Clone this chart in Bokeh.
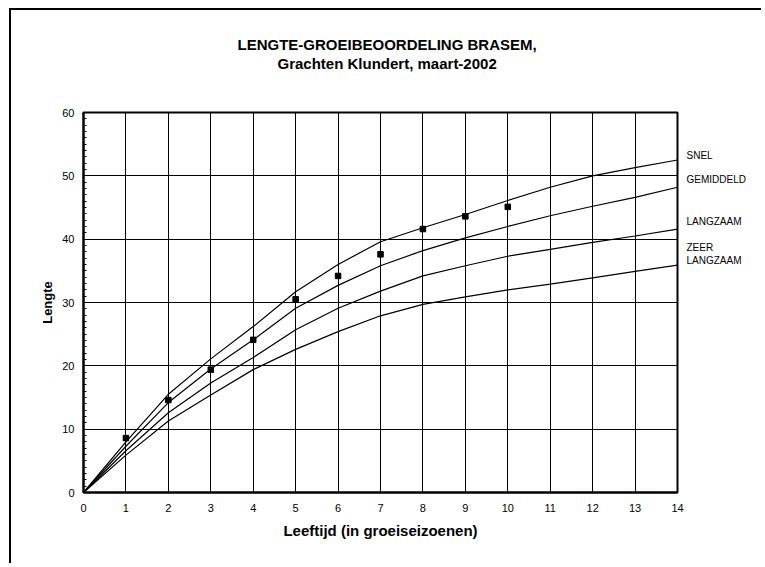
from bokeh.plotting import figure
from bokeh.models import Range1d, FixedTicker, LinearAxis, Title
from bokeh.embed import file_html
from bokeh.resources import INLINE

# ---- data ----
ages = [0, 1, 2, 3, 4, 5, 6, 7, 8, 9, 10, 11, 12, 13, 14]
snel = [0, 8.0, 15.5, 21.1, 26.2, 31.7, 36.0, 39.6, 41.8, 43.9, 46.1, 48.2, 50.0, 51.3, 52.5]
gemiddeld = [0, 7.3, 14.2, 19.5, 24.1, 29.1, 32.7, 35.8, 38.2, 40.2, 42.0, 43.7, 45.2, 46.6, 48.2]
langzaam = [0, 6.6, 12.6, 17.3, 21.3, 25.7, 29.1, 31.8, 34.2, 35.8, 37.3, 38.4, 39.5, 40.5, 41.6]
zeer_langzaam = [0, 5.9, 11.3, 15.4, 19.4, 22.6, 25.4, 27.9, 29.7, 30.9, 32.0, 32.9, 33.9, 34.9, 35.9]
obs_age = [1, 2, 3, 4, 5, 6, 7, 8, 9, 10]
obs_len = [8.6, 14.6, 19.4, 24.1, 30.5, 34.2, 37.6, 41.6, 43.6, 45.1]
x_ticks = [0, 1, 2, 3, 4, 5, 6, 7, 8, 9, 10, 11, 12, 13, 14]
y_ticks = [0, 10, 20, 30, 40, 50, 60]
curve_names = ["SNEL", "GEMIDDELD", "LANGZAAM", "ZEER\nLANGZAAM"]
title_line1 = "LENGTE-GROEIBEOORDELING BRASEM,"
title_line2 = "Grachten Klundert, maart-2002"

FONT = "Liberation Sans"

# host placed at (9, 8) with a 2px top/left border -> canvas starts at (11, 10)
p = figure(width=752, height=555, x_range=Range1d(0, 14), y_range=Range1d(0, 60),
           output_backend="svg", toolbar_location=None, title=None,
           min_border_left=72, min_border_right=86, min_border_top=102, min_border_bottom=73,
           background_fill_color="white", border_fill_color="white")
p.styles = {"vertical-align": "top", "margin-left": "9px", "margin-top": "8px",
            "border-top": "2px solid #000", "border-left": "2px solid #000"}

p.outline_line_color = "black"
p.outline_line_width = 2

# title: spacer + two separately positioned lines
spacer = Title(text=" ", text_font=FONT, text_font_size="15px", standoff=22)
t2 = Title(text=title_line2, align="left", offset=194, text_font=FONT, text_font_size="15px",
           text_font_style="bold", text_color="black", standoff=0)
t1 = Title(text=title_line1, align="left", offset=154, text_font=FONT, text_font_size="15px",
           text_font_style="bold", text_color="black", standoff=0)
p.add_layout(spacer, "above")
p.add_layout(t2, "above")
p.add_layout(t1, "above")

# axes
p.xaxis.ticker = FixedTicker(ticks=x_ticks)
p.yaxis.ticker = FixedTicker(ticks=y_ticks, minor_ticks=list(range(0, 61)))
for ax in (p.xaxis, p.yaxis):
    ax.axis_line_color = "black"
    ax.axis_line_width = 2
    ax.major_tick_in = 0
    ax.major_tick_out = 0
    ax.major_label_text_font = FONT
    ax.major_label_text_font_size = "11px"
    ax.major_label_text_color = "black"
    ax.axis_label_text_font = FONT
    ax.axis_label_text_font_style = "bold"
    ax.axis_label_text_color = "black"
p.xaxis.minor_tick_line_color = None
p.yaxis.minor_tick_in = 3
p.yaxis.minor_tick_out = 0
p.yaxis.minor_tick_line_color = "black"
p.xaxis.major_label_standoff = 11
p.yaxis.major_label_standoff = 9
p.xaxis.axis_label = "Leeftijd (in groeiseizoenen)"
p.xaxis.axis_label_text_font_size = "15px"
p.xaxis.axis_label_standoff = 7
p.yaxis.axis_label = "Lengte"
p.yaxis.axis_label_text_font_size = "13px"
p.yaxis.axis_label_standoff = 4

# grid
p.xgrid.ticker = FixedTicker(ticks=x_ticks)
p.ygrid.ticker = FixedTicker(ticks=y_ticks)
for g in (p.xgrid, p.ygrid):
    g.grid_line_color = "black"
    g.grid_line_width = 1
    g.grid_line_alpha = 1

# curves
for series in (snel, gemiddeld, langzaam, zeer_langzaam):
    p.line(ages, series, line_color="black", line_width=1.2)

p.scatter(obs_age, obs_len, marker="square", size=5.5, fill_color="black", line_color="black")

# curve names on the right, via an axis whose ticks sit at the label heights
label_y = [53.2, 49.5, 42.8, 37.7]
right_axis = LinearAxis(ticker=FixedTicker(ticks=label_y),
                        major_label_overrides={v: n for v, n in zip(label_y, curve_names)})
right_axis.axis_line_color = None
right_axis.major_tick_line_color = None
right_axis.minor_tick_line_color = None
right_axis.major_tick_in = 0
right_axis.major_tick_out = 0
right_axis.major_label_standoff = 9
right_axis.major_label_text_font = FONT
right_axis.major_label_text_font_size = "10px"
right_axis.major_label_text_color = "black"
p.add_layout(right_axis, "right")

open("out.html", "w").write(file_html(p, INLINE))
